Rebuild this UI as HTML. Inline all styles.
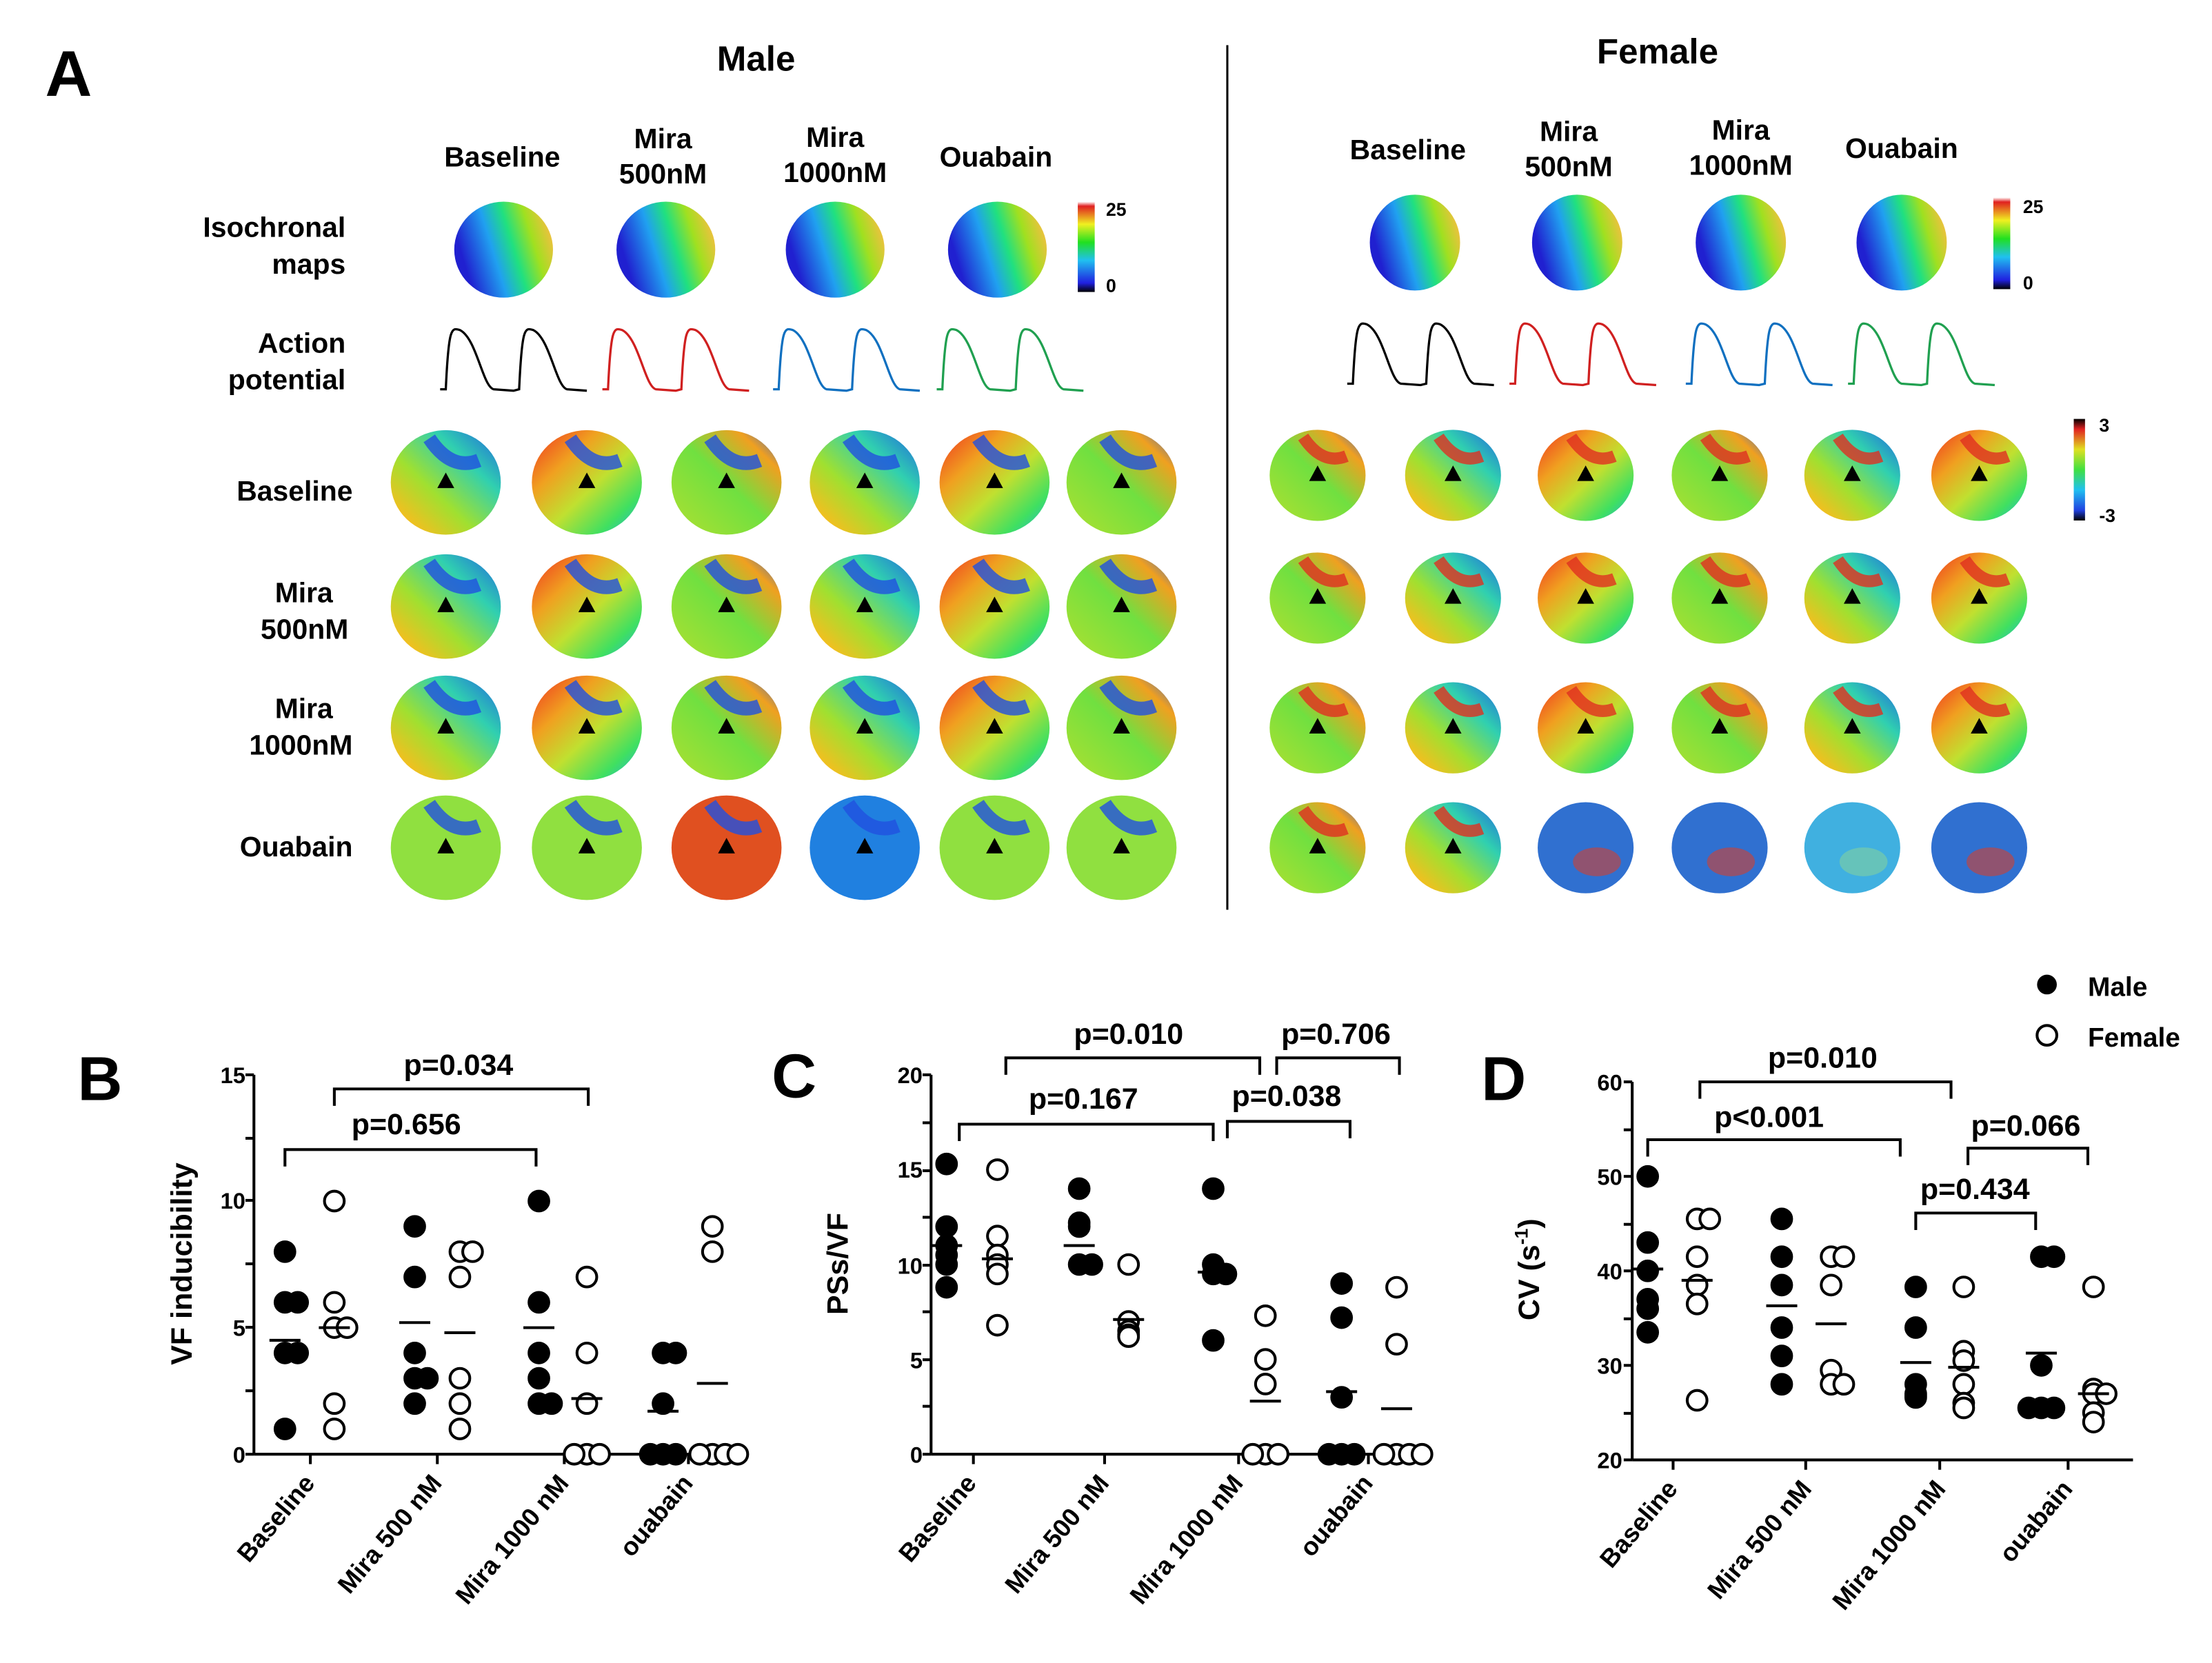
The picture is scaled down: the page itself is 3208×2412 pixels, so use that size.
<!DOCTYPE html>
<html><head><meta charset="utf-8"><style>
html,body{margin:0;padding:0;background:#fff}
svg{display:block}
text{font-family:"Liberation Sans",Arial,sans-serif;font-weight:bold;fill:#000}
</style></head><body>
<svg id="s" width="3208" height="2412" viewBox="0 0 1568 1179" preserveAspectRatio="none" xmlns="http://www.w3.org/2000/svg">
<defs>
<linearGradient id="iso" x1="0" y1="0.3" x2="1" y2="0">
<stop offset="0" stop-color="#2020d0"/><stop offset="0.3" stop-color="#20a0f0"/><stop offset="0.5" stop-color="#20e080"/><stop offset="0.7" stop-color="#a0e020"/><stop offset="0.9" stop-color="#f0c040"/><stop offset="1" stop-color="#f08040"/></linearGradient>
<linearGradient id="cb" x1="0" y1="1" x2="0" y2="0">
<stop offset="0" stop-color="#000"/><stop offset="0.1" stop-color="#2020e0"/><stop offset="0.35" stop-color="#20c0f0"/><stop offset="0.55" stop-color="#20e020"/><stop offset="0.75" stop-color="#f0f020"/><stop offset="0.95" stop-color="#e02020"/><stop offset="1" stop-color="#fff"/></linearGradient>
<linearGradient id="pcb" x1="0" y1="1" x2="0" y2="0">
<stop offset="0" stop-color="#000"/><stop offset="0.1" stop-color="#2040e0"/><stop offset="0.3" stop-color="#20c0f0"/><stop offset="0.5" stop-color="#40e040"/><stop offset="0.7" stop-color="#e0e020"/><stop offset="0.9" stop-color="#e02020"/><stop offset="1" stop-color="#000"/></linearGradient>
<linearGradient id="ph1" x1="0" y1="0" x2="1" y2="1"><stop offset="0" stop-color="#f03020"/><stop offset="0.3" stop-color="#f0a020"/><stop offset="0.55" stop-color="#c0e030"/><stop offset="0.8" stop-color="#40e060"/><stop offset="1" stop-color="#20b0e0"/></linearGradient>
<linearGradient id="ph2" x1="1" y1="0" x2="0" y2="1"><stop offset="0" stop-color="#2060e0"/><stop offset="0.3" stop-color="#30d0b0"/><stop offset="0.6" stop-color="#a0e030"/><stop offset="0.85" stop-color="#f0c020"/><stop offset="1" stop-color="#f04020"/></linearGradient>
<linearGradient id="ph3" x1="0" y1="1" x2="1" y2="0"><stop offset="0" stop-color="#b0e030"/><stop offset="0.5" stop-color="#70e040"/><stop offset="0.8" stop-color="#f0a020"/><stop offset="1" stop-color="#2060e0"/></linearGradient>
</defs>
<g id="g"></g>
<text x="32" y="68" font-size="46">A</text>
<text x="536" y="50" font-size="25" text-anchor="middle">Male</text>
<text x="1175" y="45" font-size="25" text-anchor="middle">Female</text>
<line x1="870" y1="32" x2="870" y2="645" stroke="#000" stroke-width="1.5"/>
<g font-size="20" text-anchor="middle">
<text x="356" y="118">Baseline</text><text x="470" y="105">Mira</text><text x="470" y="130">500nM</text>
<text x="592" y="104">Mira</text><text x="592" y="129">1000nM</text><text x="706" y="118">Ouabain</text>
<text x="998" y="113">Baseline</text><text x="1112" y="100">Mira</text><text x="1112" y="125">500nM</text>
<text x="1234" y="99">Mira</text><text x="1234" y="124">1000nM</text><text x="1348" y="112">Ouabain</text>
</g>
<g font-size="20" text-anchor="end">
<text x="245" y="168">Isochronal</text><text x="245" y="194">maps</text>
<text x="245" y="250">Action</text><text x="245" y="276">potential</text>
<text x="250" y="355">Baseline</text>
<text x="236" y="427">Mira</text><text x="247" y="453">500nM</text>
<text x="236" y="509">Mira</text><text x="250" y="535">1000nM</text>
<text x="250" y="607">Ouabain</text>
</g>
<rect x="764" y="143" width="12" height="64" fill="url(#cb)"/>
<rect x="1413" y="140" width="12" height="65" fill="url(#cb)"/>
<rect x="1470" y="297" width="8" height="72" fill="url(#pcb)"/>
<g font-size="13"><text x="784" y="153">25</text><text x="784" y="207">0</text>
<text x="1434" y="151">25</text><text x="1434" y="205">0</text>
<text x="1488" y="306">3</text><text x="1488" y="370">-3</text></g>

<g font-size="44"><text x="55" y="780">B</text><text x="547" y="778">C</text><text x="1050" y="780">D</text></g>
<text transform="translate(136,896) rotate(-90)" font-size="21" text-anchor="middle">VF inducibility</text>
<text transform="translate(601,896) rotate(-90)" font-size="21" text-anchor="middle">PSs/VF</text>
<text transform="translate(1091,900) rotate(-90)" font-size="21" text-anchor="middle">CV (s<tspan font-size="13" dy="-8">-1</tspan><tspan dy="8">)</tspan></text>
<g font-size="16" text-anchor="end">
<text x="174" y="768">15</text><text x="174" y="857">10</text><text x="174" y="947">5</text><text x="174" y="1037">0</text>
<text x="654" y="768">20</text><text x="654" y="835">15</text><text x="654" y="903">10</text><text x="654" y="970">5</text><text x="654" y="1037">0</text>
<text x="1150" y="773">60</text><text x="1150" y="840">50</text><text x="1150" y="907">40</text><text x="1150" y="974">30</text><text x="1150" y="1041">20</text>
</g>
<g font-size="18" text-anchor="end">
<text transform="translate(224,1052) rotate(-50)">Baseline</text>
<text transform="translate(314,1052) rotate(-50)">Mira 500 nM</text>
<text transform="translate(404,1052) rotate(-50)">Mira 1000 nM</text>
<text transform="translate(492,1052) rotate(-50)">ouabain</text>
<text transform="translate(693,1052) rotate(-50)">Baseline</text>
<text transform="translate(787,1052) rotate(-50)">Mira 500 nM</text>
<text transform="translate(882,1052) rotate(-50)">Mira 1000 nM</text>
<text transform="translate(974,1052) rotate(-50)">ouabain</text>
<text transform="translate(1190,1056) rotate(-50)">Baseline</text>
<text transform="translate(1285,1056) rotate(-50)">Mira 500 nM</text>
<text transform="translate(1380,1056) rotate(-50)">Mira 1000 nM</text>
<text transform="translate(1470,1056) rotate(-50)">ouabain</text>
</g>
<g font-size="21" text-anchor="middle">
<text x="325" y="762">p=0.034</text><text x="288" y="804">p=0.656</text>
<text x="800" y="740">p=0.010</text><text x="768" y="786">p=0.167</text>
<text x="947" y="740">p=0.706</text><text x="912" y="784">p=0.038</text>
<text x="1292" y="757">p=0.010</text><text x="1254" y="799">p&lt;0.001</text>
<text x="1436" y="805">p=0.066</text><text x="1400" y="850">p=0.434</text>
</g>
<circle cx="1451" cy="698" r="7" fill="#000"/><circle cx="1451" cy="734" r="7" fill="#fff" stroke="#000" stroke-width="2"/>
<text x="1480" y="706" font-size="19">Male</text><text x="1480" y="742" font-size="19">Female</text>
</svg>
<script>
var g=document.getElementById('g'),NS='http://www.w3.org/2000/svg';
function el(t,a){var e=document.createElementNS(NS,t);for(var k in a)e.setAttribute(k,a[k]);g.appendChild(e);return e;}
[357,472,592,707].forEach(function(x){el('ellipse',{cx:x,cy:177,rx:35,ry:34,fill:'url(#iso)'});});
[1003,1118,1234,1348].forEach(function(x){el('ellipse',{cx:x,cy:172,rx:32,ry:34,fill:'url(#iso)'});});
function ap(x0,y0,c){var d='M'+x0+','+(y0+44);for(var k=0;k<2;k++){var b=x0+k*52;d+=' L'+(b+4)+','+(y0+44)+' C'+(b+6)+','+y0+' '+(b+8)+','+y0+' '+(b+14)+','+(y0+2)+' C'+(b+26)+','+(y0+8)+' '+(b+30)+','+(y0+42)+' '+(b+38)+','+(y0+44)+' L'+(b+52)+','+(y0+45);}el('path',{d:d,fill:'none',stroke:c,'stroke-width':1.6});}
var cs=['#000','#d02020','#1070c0','#20a050'];
[312,427,548,664].forEach(function(x,i){ap(x,232,cs[i]);});
[955,1070,1195,1310].forEach(function(x,i){ap(x,228,cs[i]);});
var grads=['url(#ph1)','url(#ph2)','url(#ph3)'];
var mx=[316,416,515,613,705,795],my=[342,430,516,601],fx=[934,1030,1124,1219,1313,1403],fy=[337,424,516,601];
var n=0;
function pm(cx,cy,r,i,j,fem){n++;var f=grads[n%3];
 if(!fem&&j==3)f=(i==2?'#e05020':i==3?'#2080e0':'#90e040');
 if(fem&&j==3&&i>=2)f=(i==4?'#40b0e0':'#3070d0');
 el('ellipse',{cx:cx,cy:cy,rx:r,ry:r*0.95,fill:f});
 if(fem&&j==3&&i>=2){el('ellipse',{cx:cx+8,cy:cy+10,rx:r*0.5,ry:r*0.3,fill:(i==4?'#80d0a0':'#d04030'),opacity:0.6});}
 else{el('path',{d:'M'+(cx-r*0.3)+','+(cy-r*0.8)+' q'+(r*0.4)+','+(r*0.6)+' '+(r*0.9)+','+(r*0.4),stroke:(n%2?'#2050e0':'#e03020'),'stroke-width':r*0.25,fill:'none',opacity:0.8});
 el('path',{d:'M'+(cx-6)+','+(cy+4)+' l6,-11 l6,11z',fill:'#000'});}
}
for(var j=0;j<4;j++)for(var i=0;i<6;i++){pm(mx[i],my[j],39,i,j,false);pm(fx[i],fy[j],34,i,j,true);}
function axis(x0,x1,yb,yt,ticks){el('line',{x1:x0,y1:yb,x2:x1,y2:yb,stroke:'#000','stroke-width':2});el('line',{x1:x0,y1:yb,x2:x0,y2:yt,stroke:'#000','stroke-width':2});ticks.forEach(function(t){el('line',{x1:x0-6,y1:t,x2:x0,y2:t,stroke:'#000','stroke-width':2});});}
axis(180,528,1031,762,[1031,986,941,896,851,807,762]);
axis(660,1004,1031,762,[1031,997,964,930,897,863,830,796,762]);
axis(1157,1512,1035,767,[1035,1002,968,935,901,868,834,801,767]);
[220,310,400,488].forEach(function(x){el('line',{x1:x,y1:1031,x2:x,y2:1038,stroke:'#000','stroke-width':2});});
[690,783,878,970].forEach(function(x){el('line',{x1:x,y1:1031,x2:x,y2:1038,stroke:'#000','stroke-width':2});});
[1186,1280,1375,1466].forEach(function(x){el('line',{x1:x,y1:1035,x2:x,y2:1042,stroke:'#000','stroke-width':2});});
function br(a,b,y){el('path',{d:'M'+a+','+(y+12)+' V'+y+' H'+b+' V'+(y+12),fill:'none',stroke:'#000','stroke-width':2});}
br(237,417,772);br(202,380,815);br(713,893,750);br(680,860,797);br(905,992,750);br(870,957,795);
br(1205,1383,767);br(1168,1347,808);br(1395,1480,814);br(1358,1443,860);
function pts(xs,y0,s,v0,data,means,fill){data.forEach(function(d,k){var x=xs[k];var cnt={};d.forEach(function(v){var key=v.toFixed(1);cnt[key]=(cnt[key]||0)+1;var c=cnt[key]-1;var dx=(c%2?1:-1)*Math.ceil(c/2)*9;if(d.filter(function(w){return w.toFixed(1)==key}).length==1)dx=0;
el('circle',{cx:x+dx,cy:y0-(v-v0)*s,r:7,fill:fill?'#000':'#fff',stroke:'#000','stroke-width':2});});
el('line',{x1:x-11,x2:x+11,y1:y0-(means[k]-v0)*s,y2:y0-(means[k]-v0)*s,stroke:'#000','stroke-width':2});});}
pts([202,294,382,470],1031,17.95,0,[[8,6,6,4,4,1],[9,7,4,3,3,2],[10,6,4,3,2,2],[4,4,2,0,0,0]],[4.5,5.2,5,1.7],true);
pts([237,326,416,505],1031,17.95,0,[[10,6,5,5,2,1],[8,8,7,3,2,1],[7,4,2,0,0,0],[9,8,0,0,0,0]],[5,4.8,2.2,2.8],false);
pts([671,765,860,951],1031,13.45,0,[[15.3,12,11,10.5,10,8.8],[14,12.2,12,10,10],[14,10,9.5,9.5,6],[9,7.2,3,0,0,0]],[11,11,9.6,3.3],true);
pts([707,800,897,990],1031,13.45,0,[[15,11.5,10.5,10,9.5,6.8],[10,7,6.5,6.3,6.2],[7.3,5,3.7,0,0,0],[8.8,5.8,0,0,0,0]],[10.3,7.1,2.8,2.4],false);
pts([1168,1263,1358,1447],1035,6.7,20,[[50,43,40,37,36,33.5],[45.5,41.5,38.5,34,31,28],[38.3,34,28,27,26.8,26.6],[41.5,41.5,30,25.5,25.5,25.5]],[40.2,36.3,30.3,31.3],true);
pts([1203,1298,1392,1484],1035,6.7,20,[[45.5,45.5,41.5,38.5,36.5,26.3],[41.5,41.5,38.5,29.5,28,28],[38.3,31.5,30.5,28,26,25.5],[38.3,27.5,27,27,25,24]],[39,34.4,29.8,27],false);
</script>
</body></html>
